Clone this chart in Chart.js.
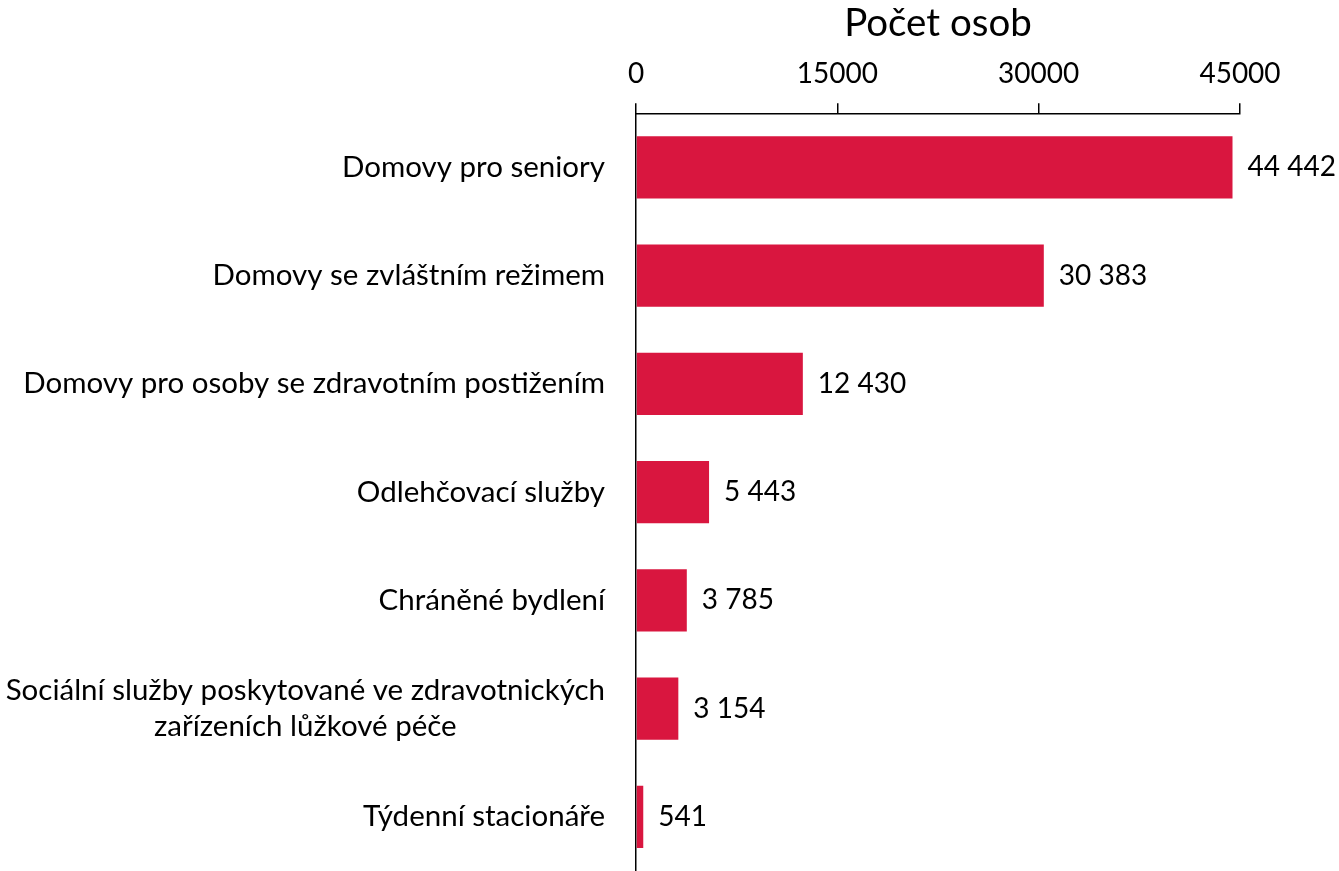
<!DOCTYPE html>
<html>
<head>
<meta charset="utf-8">
<script src="https://cdn.jsdelivr.net/npm/chart.js@4.4.1/dist/chart.umd.min.js"></script>
<style>
  html, body { margin: 0; padding: 0; background: #fff; }
  #wrap { width: 1339px; height: 871px; }
</style>
</head>
<body>
<div id="wrap"><canvas id="chart" width="1339" height="871"></canvas></div>
<script>
// Data
const categories = [
    'Domovy pro seniory',
    'Domovy se zvláštním režimem',
    'Domovy pro osoby se zdravotním postižením',
    'Odlehčovací služby',
    'Chráněné bydlení',
    ['Sociální služby poskytované ve zdravotnických', 'zařízeních lůžkové péče'],
    'Týdenní stacionáře'
];
const persons = [44442, 30383, 12430, 5443, 3785, 3154, 541];
const xTicks = [0, 15000, 30000, 45000];
const axisTitle = 'Počet osob';

const FONT = 'Lato, "Open Sans", sans-serif';
const BAR_COLOR = '#D9163F';

// format 44442 -> "44 442"
function formatValue(v) {
    return String(v).replace(/\B(?=(\d{3})+(?!\d))/g, ' ');
}

// Category labels drawn left of the axis, multi-line ones centred
const categoryLabels = {
    id: 'categoryLabels',
    afterDraw(chart) {
        const ctx = chart.ctx;
        const yScale = chart.scales.y;
        const rightEdge = chart.chartArea.left - 31;
        ctx.save();
        ctx.font = '29.5px ' + FONT;
        ctx.fillStyle = '#000';
        ctx.textBaseline = 'middle';
        ctx.textAlign = 'center';
        categories.forEach((label, i) => {
            const lines = Array.isArray(label) ? label : [label];
            const maxW = Math.max(...lines.map(l => ctx.measureText(l).width));
            const cx = rightEdge - maxW / 2;
            const lineH = 36;
            const yc = yScale.getPixelForValue(i);
            lines.forEach((l, k) => {
                ctx.fillText(l, cx, yc + (k - (lines.length - 1) / 2) * lineH);
            });
        });
        ctx.restore();
    }
};

// Value labels at the end of every bar
const valueLabels = {
    id: 'valueLabels',
    afterDatasetsDraw(chart) {
        const ctx = chart.ctx;
        const meta = chart.getDatasetMeta(0);
        ctx.save();
        ctx.font = '28px ' + FONT;
        ctx.fillStyle = '#000';
        ctx.textBaseline = 'middle';
        ctx.textAlign = 'left';
        meta.data.forEach((bar, i) => {
            ctx.fillText(formatValue(persons[i]), bar.x + 15, bar.y);
        });
        ctx.restore();
    }
};

new Chart(document.getElementById('chart'), {
    type: 'bar',
    data: {
        labels: categories,
        datasets: [{
            data: persons,
            backgroundColor: BAR_COLOR,
            borderWidth: 0,
            barPercentage: 0.575,
            categoryPercentage: 1
        }]
    },
    options: {
        indexAxis: 'y',
        responsive: false,
        animation: false,
        layout: { padding: { left: 636, right: 99, top: 0, bottom: -2 } },
        plugins: {
            legend: { display: false },
            tooltip: { enabled: false }
        },
        scales: {
            x: {
                position: 'top',
                min: 0,
                max: 45000,
                afterBuildTicks: (scale) => {
                    scale.ticks = xTicks.map(v => ({ value: v }));
                },
                ticks: {
                    color: '#000',
                    font: { family: FONT, size: 28 },
                    padding: 13,
                    callback: (v) => String(v)
                },
                grid: {
                    drawOnChartArea: false,
                    drawTicks: true,
                    tickLength: 10,
                    color: '#000',
                    lineWidth: 1.5
                },
                border: { display: true, color: '#000', width: 1.5 },
                title: {
                    display: true,
                    text: axisTitle,
                    color: '#000',
                    font: { family: FONT, size: 38.5 },
                    padding: { top: 0, bottom: -2.5 }
                }
            },
            y: {
                ticks: { display: false },
                grid: { display: false, drawTicks: false },
                border: { display: true, color: '#000', width: 1.5 }
            }
        }
    },
    plugins: [categoryLabels, valueLabels]
});
</script>
</body>
</html>
